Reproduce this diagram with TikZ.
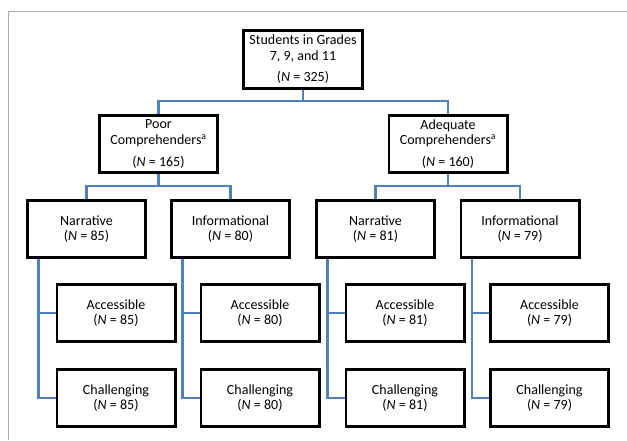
\documentclass[tikz,border=0pt]{standalone}
\usepackage{fontspec}
\setmainfont{Carlito}
\definecolor{connblue}{RGB}{79,129,189}
\definecolor{framegray}{RGB}{170,170,170}
\tikzset{
  box/.style={draw=black, line width=2.9pt, fill=white, minimum width=118.1pt, minimum height=57.1pt,
    align=center, inner sep=1pt, font=\fontsize{14}{15.5}\selectfont},
  conn/.style={draw=connblue, line width=2.2pt},
}
\begin{document}
\begin{tikzpicture}[x=1pt,y=-1pt]
\useasboundingbox (0,0) rectangle (627,440);
\draw[framegray, line width=1pt] (8.5,440) -- (8.5,11.5) -- (627,11.5);

\node[box, minimum width=119.1pt, minimum height=58.1pt] (top) at (303,59.5) {Students in Grades\\7, 9, and 11\\[6pt](\textit{N} = 325)};
\node[box] (poor) at (158.5,144) {Poor\\Comprehenders\textsuperscript{a}\\[6.5pt](\textit{N} = 165)};
\node[box] (adeq) at (448,144) {Adequate\\Comprehenders\textsuperscript{a}\\[6.5pt](\textit{N} = 160)};

\node[box] (narL) at (86.5,229) {Narrative\\(\textit{N} = 85)};
\node[box] (infL) at (230.5,229) {Informational\\(\textit{N} = 80)};
\node[box] (narR) at (375.5,229) {Narrative\\(\textit{N} = 81)};
\node[box] (infR) at (520,229) {Informational\\(\textit{N} = 79)};

\node[box] (accNL) at (116,313) {Accessible\\(\textit{N} = 85)};
\node[box] (chaNL) at (116,398) {Challenging\\(\textit{N} = 85)};
\node[box] (accIL) at (260,313) {Accessible\\(\textit{N} = 80)};
\node[box] (chaIL) at (260,398) {Challenging\\(\textit{N} = 80)};
\node[box] (accNR) at (405,313) {Accessible\\(\textit{N} = 81)};
\node[box] (chaNR) at (405,398) {Challenging\\(\textit{N} = 81)};
\node[box] (accIR) at (549.5,313) {Accessible\\(\textit{N} = 79)};
\node[box] (chaIR) at (549.5,398) {Challenging\\(\textit{N} = 79)};

\draw[conn] (top.south) -- ++(0,11) -| (poor.north);
\draw[conn] (top.south) -- ++(0,11) -| (adeq.north);
\draw[conn] (poor.south) -- ++(0,12) -| (narL.north);
\draw[conn] (poor.south) -- ++(0,12) -| (infL.north);
\draw[conn] (adeq.south) -- ++(0,12) -| (narR.north);
\draw[conn] (adeq.south) -- ++(0,12) -| (infR.north);
\foreach \p/\a/\c in {narL/accNL/chaNL, infL/accIL/chaIL, narR/accNR/chaNR, infR/accIR/chaIR}{
  \draw[conn] ([xshift=12.5pt]\p.south west) |- (\a.west);
  \draw[conn] ([xshift=12.5pt]\p.south west) |- (\c.west);
}
\end{tikzpicture}
\end{document}
